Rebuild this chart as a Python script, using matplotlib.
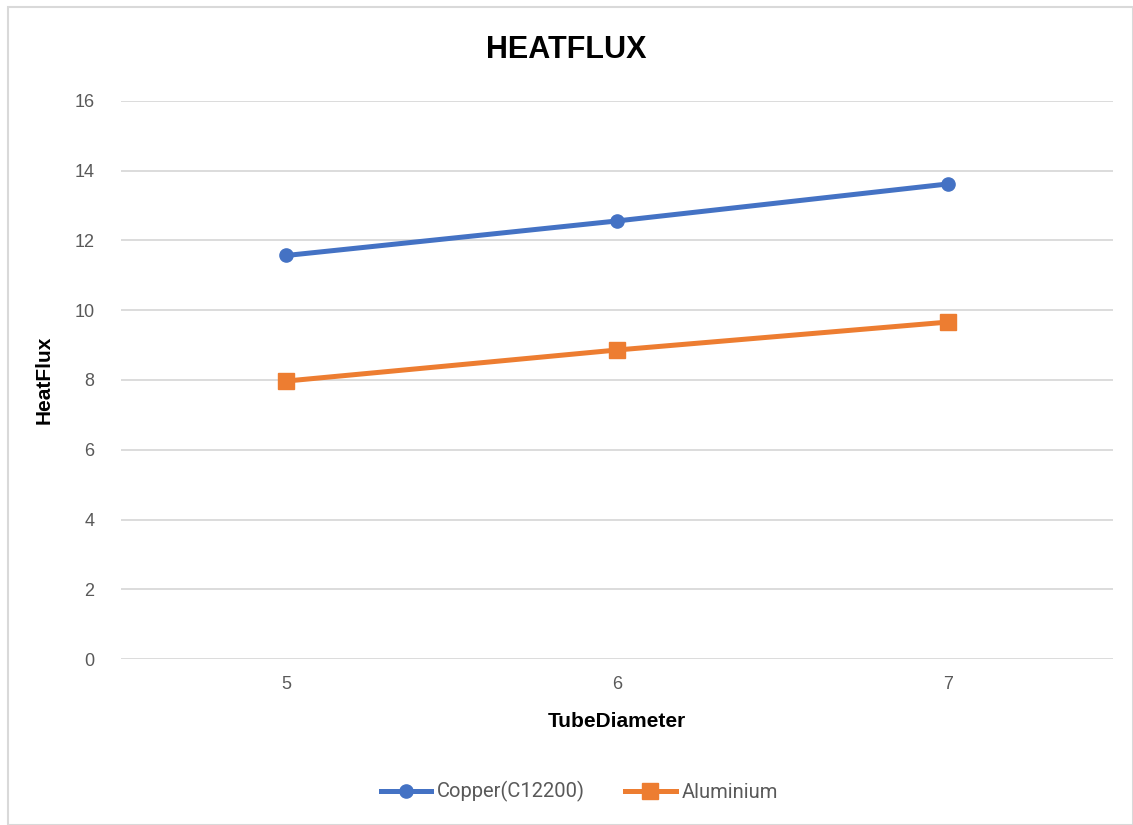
import matplotlib
matplotlib.use("Agg")
from matplotlib import pyplot as plt
from matplotlib.patches import Rectangle

###############################
### data
diameters = [5, 6, 7]
copper = [11.57, 12.56, 13.62]
aluminium = [7.97, 8.86, 9.66]
y_ticks = [0, 2, 4, 6, 8, 10, 12, 14, 16]

blue = '#4472C4'
orange = '#ED7D31'
grey_text = '#595959'

plt.rcParams['font.family'] = ['Liberation Sans Narrow', 'Liberation Sans', 'DejaVu Sans']

fig = plt.figure(figsize=(11.33, 8.25), dpi=100)
ax = fig.add_axes([0.1068, 0.2012, 0.8755, 0.6764])

# chart border
fig.patches.append(Rectangle((8/1133, 0), 1 - 8/1133, 1 - 7/825, transform=fig.transFigure,
                             fill=False, edgecolor='#D9D9D9', linewidth=1.5))

ax.plot(diameters, copper, color=blue, linewidth=3.6, marker='o', markersize=9.5,
        label='Copper(C12200)', zorder=3)
ax.plot(diameters, aluminium, color=orange, linewidth=3.6, marker='s', markersize=11,
        label='Aluminium', zorder=3)

ax.set_xlim(4.5, 7.5)
ax.set_ylim(0, 16)
ax.set_xticks(diameters)
ax.set_yticks(y_ticks)
ax.grid(axis='y', color='#D9D9D9', linewidth=1.3)
ax.set_axisbelow(True)
for s in ax.spines.values():
    s.set_visible(False)
ax.tick_params(length=0, labelsize=13, labelcolor=grey_text)
ax.tick_params(axis='y', pad=19)
ax.tick_params(axis='x', pad=12)

ax.set_xlabel('TubeDiameter', fontsize=15, fontweight='bold', labelpad=14)
ax.set_ylabel('HeatFlux', fontsize=15, fontweight='bold')
ax.yaxis.set_label_coords(-0.068, 0.5)
fig.text(0.5, 0.939, 'HEATFLUX', ha='center', va='center', fontsize=22, fontweight='bold')

leg = ax.legend(loc='center', bbox_to_anchor=(0.462, -0.238), ncol=2, frameon=False,
                handlelength=2.5, handletextpad=0.3, columnspacing=2.0,
                prop={'family': ['Roboto', 'DejaVu Sans'], 'size': 14.5})
for t in leg.get_texts():
    t.set_color(grey_text)

fig.savefig('out.png', dpi=100)
